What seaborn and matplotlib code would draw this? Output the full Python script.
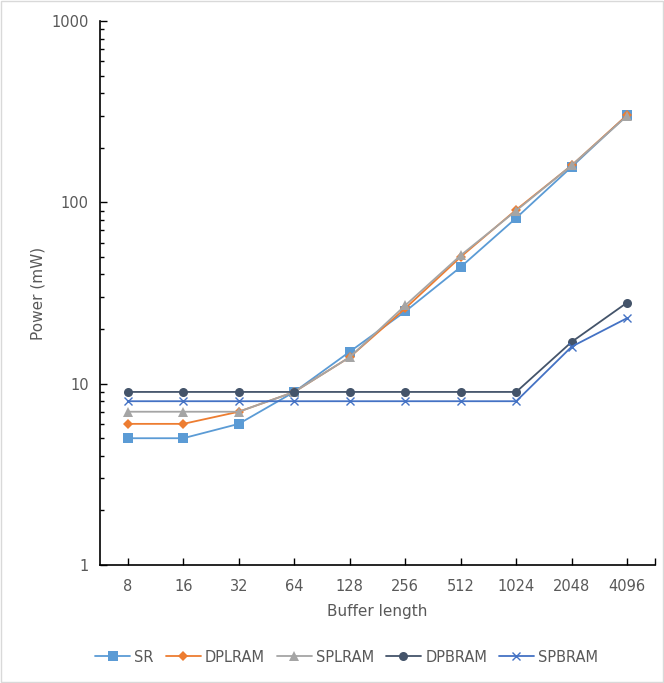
import numpy as np
import pandas as pd
import seaborn as sns
import matplotlib.pyplot as plt
from matplotlib.patches import Rectangle
from matplotlib.ticker import LogLocator, NullFormatter, FixedLocator

buffer_lengths = ['8', '16', '32', '64', '128', '256', '512', '1024', '2048', '4096']
sr = [5, 5, 6, 9, 15, 25, 44, 82, 157, 303]
dplram = [6, 6, 7, 9, 14, 26, 50, 91, 160, 303]
splram = [7, 7, 7, 9, 14, 27, 51, 90, 160, 300]
dpbram = [9, 9, 9, 9, 9, 9, 9, 9, 17, 28]
spbram = [8, 8, 8, 8, 8, 8, 8, 8, 16, 23]

series = {'SR': sr, 'DPLRAM': dplram, 'SPLRAM': splram, 'DPBRAM': dpbram, 'SPBRAM': spbram}
colors = {'SR': '#5B9BD5', 'DPLRAM': '#ED7D31', 'SPLRAM': '#A5A5A5',
          'DPBRAM': '#44546A', 'SPBRAM': '#4472C4'}
markers = {'SR': 's', 'DPLRAM': 'D', 'SPLRAM': '^', 'DPBRAM': 'o', 'SPBRAM': 'x'}
msize = {'SR': 6.5, 'DPLRAM': 5, 'SPLRAM': 6.5, 'DPBRAM': 6.5, 'SPBRAM': 6}

sns.set_style('white')
plt.rcParams['font.family'] = ['DejaVu Sans']
txt = '#595959'

fig = plt.figure(figsize=(6.64, 6.83), dpi=100)
ax = fig.add_axes([0.1506, 0.1728, 0.8358, 0.7965])

for name, vals in series.items():
    d = pd.DataFrame({'Buffer length': buffer_lengths, 'Power (mW)': vals})
    is_x = markers[name] == 'x'
    sns.lineplot(data=d, x='Buffer length', y='Power (mW)', color=colors[name],
                 marker=markers[name], markersize=msize[name], linewidth=1.3,
                 markeredgewidth=1.0 if is_x else 0, markeredgecolor=colors[name],
                 sort=False, ax=ax, label=name, legend=False)

ax.set_yscale('log')
ax.set_ylim(1, 1000)
ax.set_xlim(-0.5, 9.5)
ax.yaxis.set_major_locator(FixedLocator([1, 10, 100, 1000]))
ax.set_yticklabels(['1', '10', '100', '1000'])
ax.yaxis.set_minor_locator(LogLocator(base=10, subs=np.arange(2, 10)))
ax.yaxis.set_minor_formatter(NullFormatter())
ax.xaxis.set_minor_locator(FixedLocator([9.5]))

for s in ['top', 'right']:
    ax.spines[s].set_visible(False)
for s in ['left', 'bottom']:
    ax.spines[s].set_color('black')
    ax.spines[s].set_linewidth(1.2)

ax.tick_params(axis='both', which='both', left=True, bottom=True, direction='in',
               color='black', width=1)
ax.tick_params(axis='both', which='major', length=5, labelcolor=txt, labelsize=10.5)
ax.tick_params(axis='x', which='major', pad=10)
ax.tick_params(axis='y', which='major', pad=8)
ax.tick_params(axis='y', which='minor', length=3)
ax.tick_params(axis='x', which='minor', length=5)

ax.set_xlabel('Buffer length', color=txt, fontsize=11, labelpad=7)
ax.set_ylabel('Power (mW)', color=txt, fontsize=11, labelpad=4)

handles = [plt.Line2D([], [], color=colors[n], marker=markers[n], linewidth=1.3,
                      markersize=msize[n],
                      markeredgewidth=1.0 if markers[n] == 'x' else 0,
                      markeredgecolor=colors[n]) for n in series]
fig.legend(handles, list(series.keys()), loc='center', bbox_to_anchor=(0.522, 0.038),
           ncol=5, frameon=False, fontsize=10.5, labelcolor=txt, handlelength=2.4,
           handletextpad=0.3, columnspacing=0.8)

fig.patches.append(Rectangle((0.002, 0.002), 0.996, 0.996, transform=fig.transFigure,
                             fill=False, edgecolor='#D9D9D9', linewidth=1))

fig.savefig('out.png', dpi=100)
